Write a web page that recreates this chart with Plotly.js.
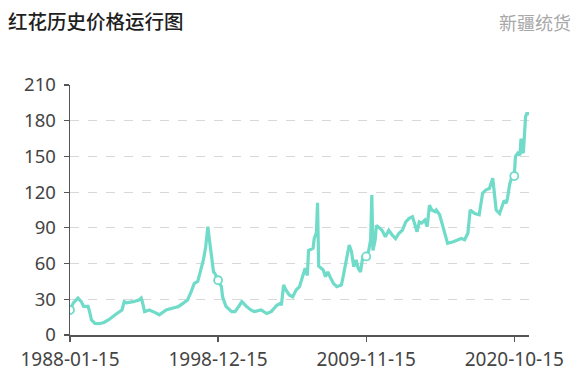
<!DOCTYPE html>
<html>
<head>
<meta charset="utf-8">
<script src="https://cdn.plot.ly/plotly-3.0.1.min.js"></script>
<style>html,body{margin:0;padding:0;background:#fff;}#chart{width:581px;height:380px;}</style>
</head>
<body>
<div id="chart"></div>
<script>
// Monthly-ish readings of the price series (yuan/kg)
const dates = [
 "1988-01-15","1988-04-15","1988-08-15","1988-11-15","1989-01-15","1989-05-15","1989-06-15","1989-08-15","1989-11-15",
 "1990-03-15","1990-07-15","1990-11-15","1991-05-15","1991-11-15","1992-01-15","1992-03-15","1992-09-15","1993-02-15",
 "1993-04-15","1993-05-15","1993-07-15","1993-11-15","1994-04-15","1994-08-15","1995-02-15","1995-08-15","1996-01-15",
 "1996-05-15","1996-09-15","1996-12-15","1997-03-15","1997-06-15","1997-09-15","1997-11-15","1998-01-15","1998-02-15",
 "1998-03-15","1998-04-15","1998-06-15","1998-08-15","1998-09-15","1998-12-15","1999-03-15","1999-04-15","1999-07-15",
 "1999-12-15","2000-03-15","2000-07-15","2000-09-15","2001-01-15","2001-05-15","2001-08-15","2002-02-15","2002-07-15",
 "2002-11-15","2003-04-15","2003-07-15","2003-08-15","2003-10-15","2003-12-15","2004-03-15","2004-06-15","2004-09-15",
 "2004-12-15","2005-03-15","2005-05-15","2005-07-15","2005-08-15","2005-12-15","2006-01-15","2006-03-15","2006-04-15",
 "2006-05-15","2006-09-15","2006-11-15","2007-01-15","2007-03-15","2007-06-15","2007-09-15","2008-01-15","2008-02-15",
 "2008-04-15","2008-06-15","2008-08-15","2008-10-15","2008-12-15","2009-02-15","2009-04-15","2009-06-15","2009-08-15",
 "2009-11-15","2010-01-15","2010-02-15","2010-03-15","2010-04-15","2010-05-15","2010-07-15","2010-08-15","2010-11-15",
 "2011-01-15","2011-04-15","2011-07-15","2011-10-15","2012-01-15","2012-04-15","2012-07-15","2012-10-15","2013-01-15",
 "2013-04-15","2013-06-15","2013-08-15","2013-10-15","2013-12-15","2014-03-15","2014-05-15","2014-07-15","2014-09-15",
 "2014-12-15","2015-01-15","2015-04-15","2015-07-15","2015-10-15","2015-11-15","2016-04-15","2016-08-15","2016-11-15",
 "2017-02-15","2017-05-15","2017-07-15","2017-11-15","2018-03-15","2018-06-15","2018-09-15","2018-12-15","2019-03-15",
 "2019-04-15","2019-06-15","2019-09-15","2019-11-15","2020-01-15","2020-03-15","2020-04-15","2020-06-15","2020-08-15",
 "2020-10-15","2020-11-15","2021-01-15","2021-03-15","2021-04-15","2021-05-15","2021-06-15","2021-08-15","2021-09-15",
 "2021-11-15"
];
const prices = [
 21,27,31,28,24,24,21,12.6,9.8,
 9.5,10.5,12.6,17,21,28,27,28,29.4,
 31,28,19.6,21,19,17,21,22.4,24,
 26.6,29.4,36,43.4,45,54.6,63,74,88,
 91,82.6,68.7,53,52,46,40.6,32,24,
 19.6,19.6,25,28,24,21,19.6,21,18,
 19.6,25,26.6,25,42,37.8,33.6,32,37.8,
 40.6,49,56,50,71,73,81,86,111,
 58,54.6,49,53,49,43.4,40.6,42,46,
 54.6,65.8,75.6,70,57.4,63,56,53,65.8,
 66,70,74,80,117.6,71,80,92,89.6,
 88,82.6,88,84,81,85.5,88,95,98,
 99.4,94,86.8,95,94,96.6,91,109,105,
 103.6,105,101,91,80,77,78.4,80,81,
 80,85.5,105,102,101,119,122,123,131.7,
 122,105,102,108,113,110.7,115,127,133,
 133.5,150,152.7,151,165,155,152.7,183.5,186,
 186
];
const tickDates = ["1988-01-15","1998-12-15","2009-11-15","2020-10-15"];
const tickLabels = ["1988-01-15","1998-12-15","2009-11-15","2020-10-15"];
const yTicks = [0,30,60,90,120,150,180,210];

const lineColor = "#6fdbc8";
const markY = tickDates.map(d => prices[dates.indexOf(d)]);

const traces = [
 {x: dates, y: prices, type: "scatter", mode: "lines",
  line: {color: lineColor, width: 3.2}, hoverinfo: "x+y"},
 {x: tickDates, y: markY, type: "scatter", mode: "markers",
  marker: {color: "#ffffff", size: 8, line: {color: lineColor, width: 1.8}}, hoverinfo: "skip"}
];

const layout = {
 width: 581, height: 380,
 margin: {l: 70, r: 52, t: 85, b: 45},
 paper_bgcolor: "#ffffff", plot_bgcolor: "#ffffff",
 showlegend: false,
 font: {family: "Noto Sans, Noto Sans CJK SC, sans-serif", color: "#444"},
 title: {text: "红花历史价格运行图", x: 8/581, xanchor: "left", xref: "container",
   y: 1 - 22/380, yanchor: "middle", yref: "container",
   font: {family: "Noto Sans CJK SC, sans-serif", size: 19.5, color: "#1e1e1e", weight: 500}},
 annotations: [{text: "新疆统货", xref: "paper", yref: "paper",
   x: (573-70)/459, xanchor: "right", y: (335-22)/250, yanchor: "middle",
   showarrow: false, font: {family: "Noto Sans CJK SC, sans-serif", size: 18, color: "#a8a8a8"}}],
 xaxis: {type: "date", range: ["1988-01-15", "2021-11-15"],
   tickmode: "array", tickvals: tickDates, ticktext: tickLabels,
   showgrid: false, zeroline: false, showline: true, linecolor: "#555", linewidth: 1.5,
   ticks: "outside", ticklen: 5, tickcolor: "#555", tickwidth: 1.2,
   ticklabelstandoff: 2,
   tickfont: {size: 19, color: "#444"}},
 yaxis: {range: [0, 210], tickmode: "array", tickvals: yTicks,
   showgrid: true, gridcolor: "#d8d8d8", griddash: "dash", gridwidth: 1,
   zeroline: false, showline: true, linecolor: "#555", linewidth: 1.5,
   ticks: "outside", ticklen: 5, tickcolor: "#555", tickwidth: 1.2,
   ticklabelstandoff: 4,
   tickfont: {size: 18.5, color: "#444"}}
};

Plotly.newPlot("chart", traces, layout, {displayModeBar: false, staticPlot: true});
</script>
</body>
</html>
